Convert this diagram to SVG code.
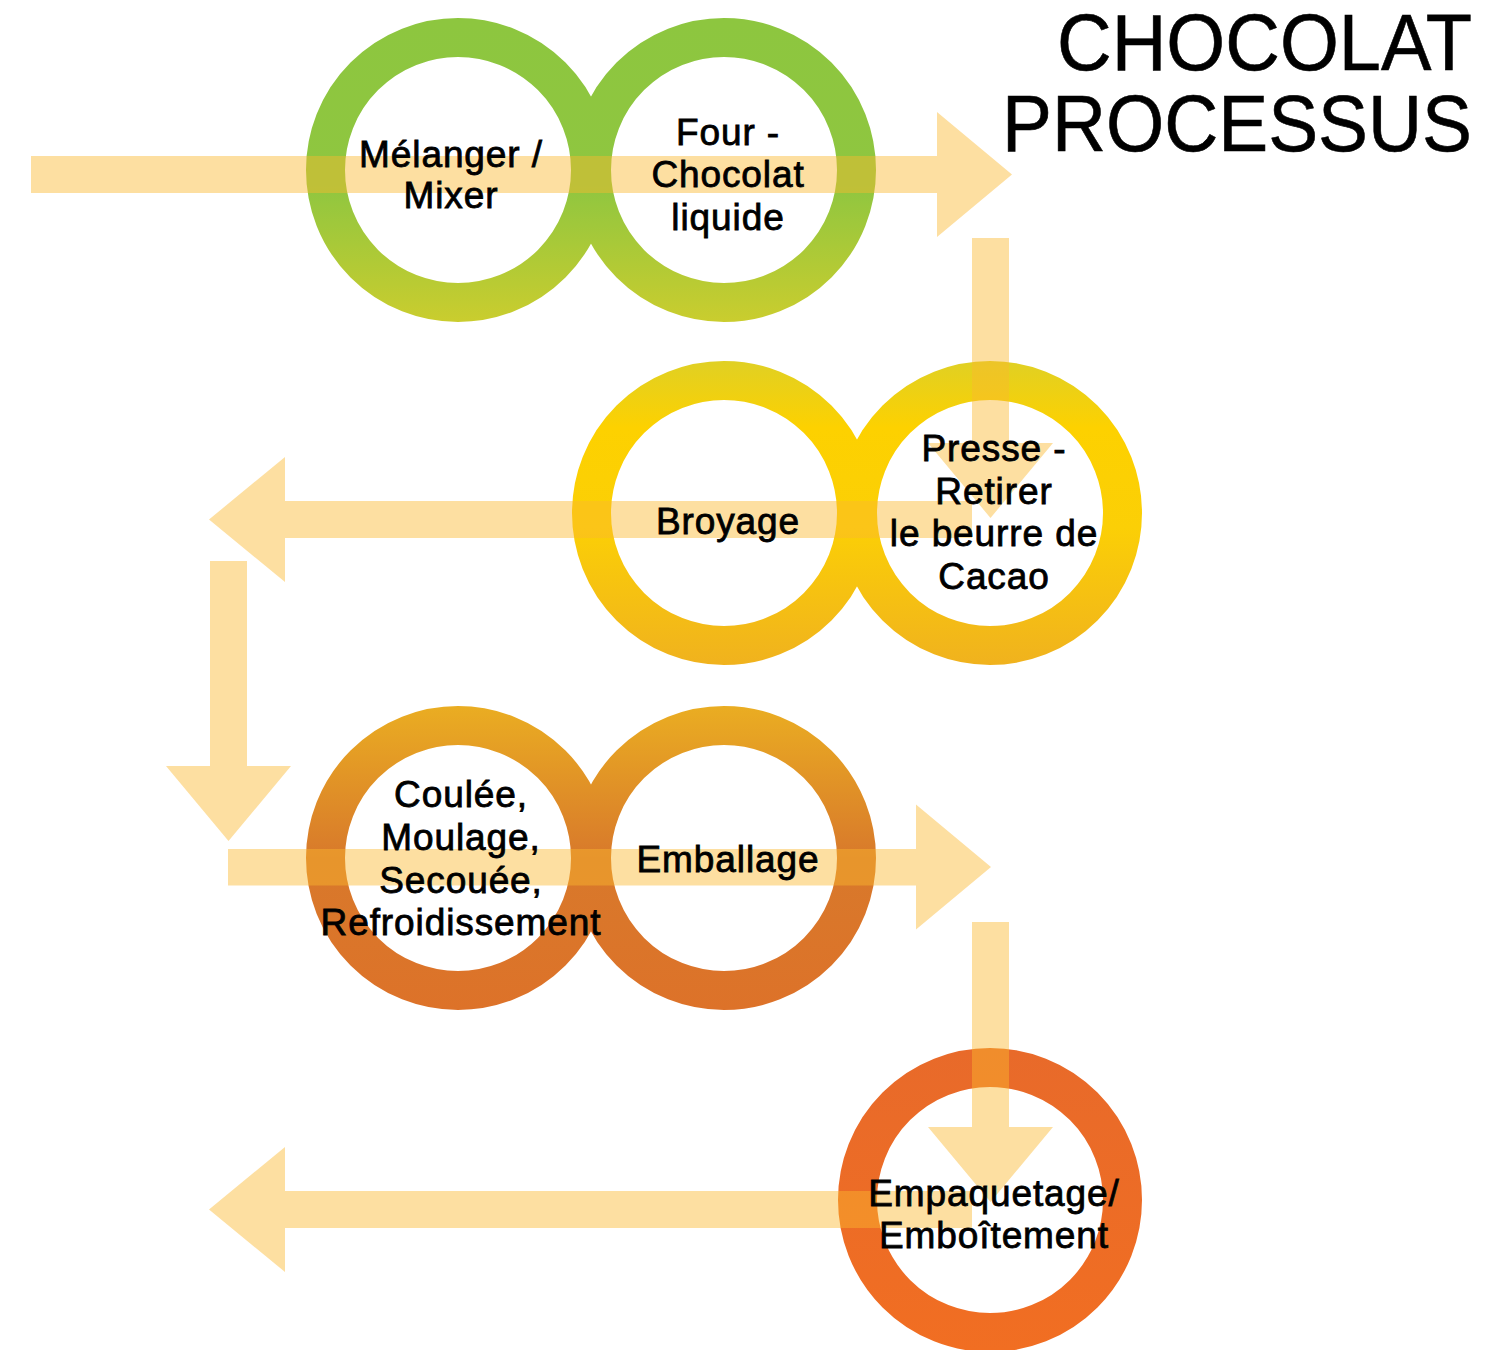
<svg xmlns="http://www.w3.org/2000/svg" width="1512" height="1350" viewBox="0 0 1512 1350">
<style>
.ring{fill:none;stroke-width:39}
.arrow{fill:#fbb82e;fill-opacity:0.45}
.lbl{font-family:"Liberation Sans",Arial,sans-serif;font-size:37px;letter-spacing:0.9px;fill:#000;stroke:#000;stroke-width:0.8;text-anchor:middle}
.title{font-family:"Liberation Sans",Arial,sans-serif;font-size:80px;fill:#000;stroke:#000;stroke-width:0.6;text-anchor:end}
</style>
<defs>
<linearGradient id="g1" gradientUnits="userSpaceOnUse" x1="0" y1="18" x2="0" y2="322">
<stop offset="0" stop-color="#8dc63f"/><stop offset="0.55" stop-color="#8fc640"/><stop offset="1" stop-color="#cacd2e"/>
</linearGradient>
<linearGradient id="g2" gradientUnits="userSpaceOnUse" x1="0" y1="361" x2="0" y2="665">
<stop offset="0" stop-color="#e0d024"/><stop offset="0.22" stop-color="#fdd100"/><stop offset="0.55" stop-color="#fbcf06"/><stop offset="1" stop-color="#f0b21e"/>
</linearGradient>
<linearGradient id="g3" gradientUnits="userSpaceOnUse" x1="0" y1="706" x2="0" y2="1010">
<stop offset="0" stop-color="#eaad22"/><stop offset="0.5" stop-color="#d8792b"/><stop offset="1" stop-color="#dd7229"/>
</linearGradient>
<linearGradient id="g4" gradientUnits="userSpaceOnUse" x1="0" y1="1048" x2="0" y2="1352">
<stop offset="0" stop-color="#e86a2a"/><stop offset="1" stop-color="#f16e22"/>
</linearGradient>
</defs>
<rect width="1512" height="1350" fill="#fff"/>
<g id="rings">
<g id="n1"><circle class="ring" cx="458" cy="170" r="132.5" stroke="url(#g1)"/></g>
<g id="n2"><circle class="ring" cx="724" cy="170" r="132.5" stroke="url(#g1)"/></g>
<g id="n3"><circle class="ring" cx="724" cy="513" r="132.5" stroke="url(#g2)"/></g>
<g id="n4"><circle class="ring" cx="990" cy="513" r="132.5" stroke="url(#g2)"/></g>
<g id="n5"><circle class="ring" cx="458" cy="858" r="132.5" stroke="url(#g3)"/></g>
<g id="n6"><circle class="ring" cx="724" cy="858" r="132.5" stroke="url(#g3)"/></g>
<g id="n7"><circle class="ring" cx="990" cy="1200" r="132.5" stroke="url(#g4)"/></g>
</g>
<g id="connectors">
<polygon class="arrow" points="31,156 937,156 937,112 1012,174.5 937,237 937,193 31,193"/>
<polygon class="arrow" points="972,238 1009,238 1009,443 1053,443 990.5,518 928,443 972,443"/>
<polygon class="arrow" points="972,501 285,501 285,457 209,519.5 285,582 285,538 972,538"/>
<polygon class="arrow" points="210,561 247,561 247,766 291,766 228.5,841 166,766 210,766"/>
<polygon class="arrow" points="228,849 916,849 916,804.5 991,867 916,929.5 916,885.5 228,885.5"/>
<polygon class="arrow" points="972,922 1009,922 1009,1127 1053,1127 990.5,1202 928,1127 972,1127"/>
<polygon class="arrow" points="972,1191 285,1191 285,1147 209,1209.5 285,1272 285,1228 972,1228"/>
</g>
<g id="labels">
<text class="lbl" x="451" y="167">Mélanger /</text>
<text class="lbl" x="451" y="208">Mixer</text>
<text class="lbl" x="728" y="145">Four -</text>
<text class="lbl" x="728" y="187">Chocolat</text>
<text class="lbl" x="728" y="230">liquide</text>
<text class="lbl" x="728" y="534">Broyage</text>
<text class="lbl" x="994" y="461">Presse -</text>
<text class="lbl" x="994" y="503.5">Retirer</text>
<text class="lbl" x="994" y="546">le beurre de</text>
<text class="lbl" x="994" y="588.5">Cacao</text>
<text class="lbl" x="461" y="807">Coulée,</text>
<text class="lbl" x="461" y="850">Moulage,</text>
<text class="lbl" x="461" y="893">Secouée,</text>
<text class="lbl" x="461" y="935">Refroidissement</text>
<text class="lbl" x="728" y="872">Emballage</text>
<text class="lbl" x="994" y="1206">Empaquetage/</text>
<text class="lbl" x="994" y="1248">Emboîtement</text>
</g>
<g id="title">
<text class="title" x="1472" y="70" textLength="415" lengthAdjust="spacingAndGlyphs">CHOCOLAT</text>
<text class="title" x="1472" y="151" textLength="470" lengthAdjust="spacingAndGlyphs">PROCESSUS</text>
</g>
</svg>
